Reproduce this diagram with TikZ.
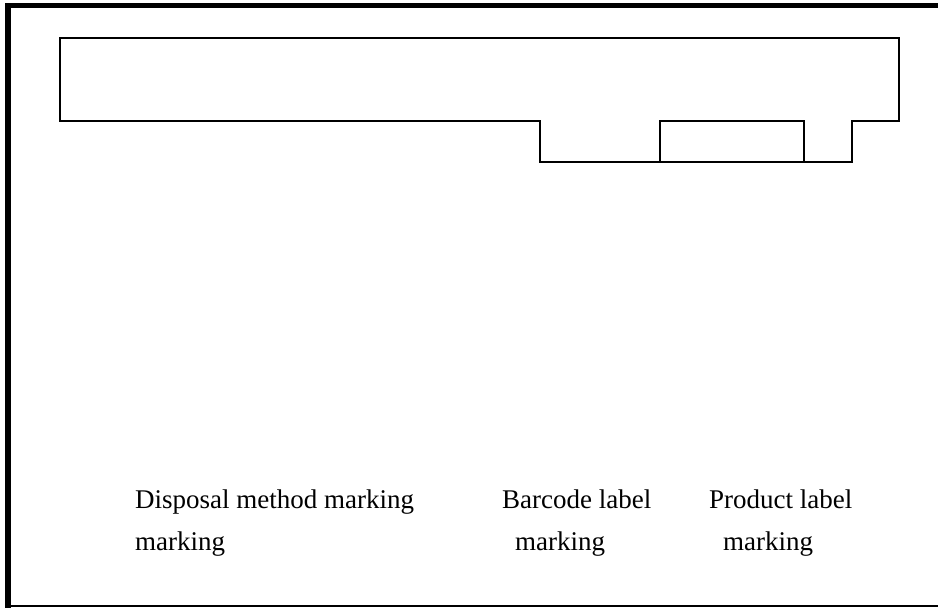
\documentclass[tikz,border=0pt]{standalone}
\usepackage{fontspec}
\setmainfont{Liberation Serif}
\usepackage{tikz}

\begin{document}
\begin{tikzpicture}[x=1pt,y=-1pt]
\tikzset{outline/.style = {draw,line width=1.3pt,line join=miter}}
\tikzset{marktext/.style = {anchor=base west,inner sep=0pt,font=\fontsize{27}{42}\selectfont}}
\useasboundingbox (0,0) rectangle (938,608);
% frame
\draw[line width=5.5pt] (8,608) -- (8,5.5) -- (938,5.5);
\draw[line width=1.5pt] (8,606) -- (938,606);
% board outline
\draw[outline] (60,38) -- (899,38) -- (899,121) -- (852,121) -- (852,162)
  -- (540,162) -- (540,121) -- (60,121) -- cycle;
\draw[outline] (660,121) rectangle (804,162);
% labels
\node[marktext](disp1) at (135,508) {Disposal method marking};
\node[marktext](disp2) at (135,550) {marking};
\node[marktext](bar1) at (502,508) {Barcode label};
\node[marktext](bar2) at (515,550) {marking};
\node[marktext](prod1) at (709,508) {Product label};
\node[marktext](prod2) at (723,550) {marking};
\end{tikzpicture}
\end{document}
